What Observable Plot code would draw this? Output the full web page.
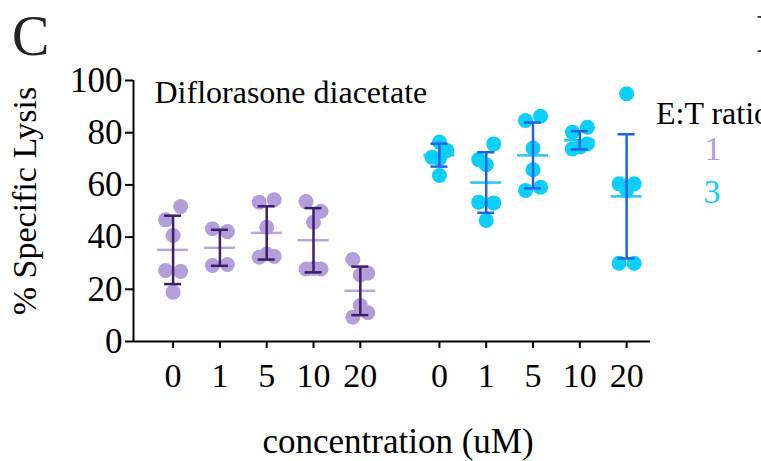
<!DOCTYPE html>
<html><head><meta charset="utf-8">
<script src="https://cdn.jsdelivr.net/npm/d3@7"></script>
<script src="https://cdn.jsdelivr.net/npm/@observablehq/plot@0.6"></script>
<style>
body{margin:0;background:#fff;}
#wrap{position:relative;width:761px;height:461px;overflow:hidden;background:#fff;}
#wrap svg{overflow:hidden;}
</style></head><body><div id="wrap"></div>
<script>
// ---- data ----
const concentrations = ["0", "1", "5", "10", "20"];
const ratios = ["1", "3"];
const ratio1Values = [
  [46.6, 51.7, 40.6, 27.2, 26.8, 18.9],
  [43.2, 42.1, 29.1, 29.5],
  [53.4, 54.3, 43.8, 32.3, 33.5, 32.6],
  [53.6, 49.9, 45.7, 27.8, 28.0, 27.8],
  [31.4, 25.5, 26.2, 9.3, 13.8, 11.0]
];
const ratio3Values = [
  [70.6, 76.4, 73.2, 70.0, 63.6],
  [69.7, 75.7, 67.7, 53.4, 53.1, 46.4],
  [84.7, 86.3, 74.1, 65.8, 57.9, 59.1],
  [80.2, 82.1, 73.8, 74.5, 75.7],
  [94.9, 60.4, 57.9, 60.4, 30.0, 30.0]
];
const ratio1Mean = [35.1, 35.9, 41.6, 38.8, 19.4];
const ratio1SD   = [13.1, 6.9, 10.2, 12.3, 9.3];
const ratio3Mean = [71.4, 60.9, 71.3, 77.1, 55.6];
const ratio3SD   = [4.4, 11.6, 12.6, 3.5, 23.8];
const yTicks = [0, 20, 40, 60, 80, 100];

// ---- layout / style ----
const W = 761, H = 461;
const mL = 133, mR = 111, mT = 80, mB = 120;
const groupGap = 0.69;
const xDomain = [-0.846, 10.2];
const ppu = (W - mL - mR) / (xDomain[1] - xDomain[0]);
const font = "'Liberation Serif', 'Times New Roman', serif";
const colors = {
  "1": {pt: "#b39ddb", mean: "#b9a5de", bar: "#3b1f68"},
  "3": {pt: "#0acffb", mean: "#25c6f2", bar: "#1f63e4"}
};
const dotR = 7.5, jitterPx = 7.5, clusterThr = 6.2;

function offsets(values) {
  const idx = values.map((v, i) => i).sort((a, b) => values[b] - values[a]);
  const clusters = []; let cur = null;
  for (const i of idx) {
    if (cur && values[cur.top] - values[i] < clusterThr) cur.members.push(i);
    else { cur = {top: i, members: [i]}; clusters.push(cur); }
  }
  const off = new Array(values.length).fill(0);
  for (const c of clusters) {
    const m = c.members.slice().sort((a, b) => a - b), n = m.length;
    m.forEach((i, k) => off[i] = (n === 2 ? (k === 0 ? -1 : 1) : k - (n - 1) / 2) * jitterPx);
  }
  return off;
}

const groups = [
  {ratio: "1", values: ratio1Values, mean: ratio1Mean, sd: ratio1SD},
  {ratio: "3", values: ratio3Values, mean: ratio3Mean, sd: ratio3SD}
];
const points = [], stats = [], slots = [], labelMap = new Map();
groups.forEach((g, gi) => {
  concentrations.forEach((c, ci) => {
    const slot = gi * (concentrations.length + groupGap) + ci;
    slots.push(slot); labelMap.set(slot, c);
    const vals = g.values[ci];
    const off = offsets(vals);
    vals.forEach((v, k) => points.push({ratio: g.ratio, conc: c, slot, x: slot + off[k] / ppu, value: v}));
    stats.push({ratio: g.ratio, conc: c, slot, mean: g.mean[ci], lo: g.mean[ci] - g.sd[ci], hi: g.mean[ci] + g.sd[ci]});
  });
});
const caps = stats.flatMap(d => [{...d, y: d.lo}, {...d, y: d.hi}]);

const marks = [];
for (const r of ratios) {
  const st = stats.filter(d => d.ratio === r);
  marks.push(Plot.ruleY(st, {x1: d => d.slot - 15.5 / ppu, x2: d => d.slot + 15.5 / ppu, y: "mean", stroke: colors[r].mean, strokeWidth: 2.5}));
}
for (const r of ratios) {
  marks.push(Plot.dot(points.filter(d => d.ratio === r), {x: "x", y: "value", r: dotR, fill: colors[r].pt, stroke: "none"}));
}
for (const r of ratios) {
  const st = stats.filter(d => d.ratio === r);
  marks.push(Plot.ruleX(st, {x: "slot", y1: "lo", y2: "hi", stroke: colors[r].bar, strokeWidth: 2.5}));
  marks.push(Plot.ruleY(caps.filter(d => d.ratio === r), {x1: d => d.slot - 8.5 / ppu, x2: d => d.slot + 8.5 / ppu, y: "y", stroke: colors[r].bar, strokeWidth: 2.5}));
}
marks.push(Plot.ruleY([0], {stroke: "#000", strokeWidth: 2}));
marks.push(Plot.ruleX([xDomain[0]], {y1: 0, y2: 100, stroke: "#000", strokeWidth: 2}));
marks.push(Plot.axisY({ticks: yTicks, tickSize: 8, tickPadding: 3, strokeWidth: 2, label: null, fill: "#000", fontSize: 35}));
marks.push(Plot.axisX({ticks: slots, tickFormat: d => labelMap.get(d), tickSize: 7, tickPadding: 14, strokeWidth: 2, label: null, fill: "#000", fontSize: 34}));
marks.push(Plot.text(["Diflorasone diacetate"], {frameAnchor: "top-left", dx: 21, lineAnchor: "top", textAnchor: "start", fontSize: 32, fill: "#000"}));

const plot = Plot.plot({
  width: W, height: H,
  marginLeft: mL, marginRight: mR, marginTop: mT, marginBottom: mB,
  x: {type: "linear", domain: xDomain},
  y: {domain: [0, 100]},
  style: {fontFamily: font, fontSize: "34px", color: "#000", background: "#fff", overflow: "hidden"},
  marks
});
document.getElementById("wrap").appendChild(plot);

// ---- annotation texts ----
const svg = d3.select(plot);
function addText(txt, x, y, size, opts = {}) {
  const t = svg.append("text").text(txt)
    .attr("x", x).attr("y", y)
    .attr("font-family", font).attr("font-size", size)
    .attr("fill", opts.fill || "#000")
    .attr("text-anchor", opts.anchor || "start");
  if (opts.transform) t.attr("transform", opts.transform).attr("x", 0).attr("y", 0);
  return t;
}
addText("C", 12, 55, 56, {fill: "#222"});
addText("D", 756, 52, 54, {fill: "#333"});
addText("E:T ratio", 656, 124, 32);
addText(ratios[0], 713, 160, 34, {fill: colors["1"].pt, anchor: "middle"});
addText(ratios[1], 712, 203, 34, {fill: colors["3"].pt, anchor: "middle"});
addText("% Specific Lysis", 0, 0, 34, {anchor: "middle", transform: "translate(36,201) rotate(-90)"});
addText("concentration (uM)", 398, 453, 35, {anchor: "middle"});
</script></body></html>
